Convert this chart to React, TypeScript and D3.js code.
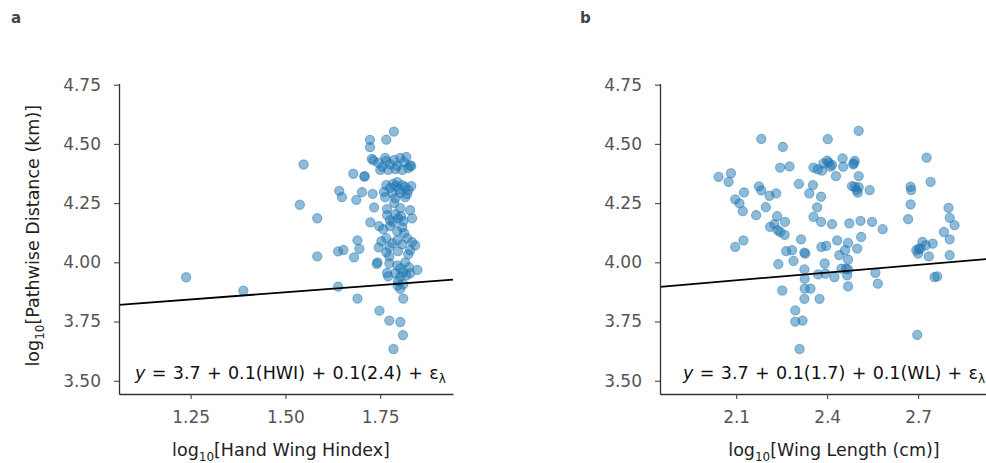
import React, { useRef, useEffect } from "react";
import * as d3 from "d3";

// panel a: log10 hand wing index vs log10 pathwise distance
const hwiA = [
  1.238, 1.389, 1.548, 1.538, 1.584, 1.584, 1.639, 1.639, 1.653, 1.642, 1.649, 1.679, 1.708, 1.709, 1.687,
  1.702, 1.730, 1.690, 1.695, 1.681, 1.690, 1.734, 1.724, 1.746, 1.741, 1.743, 1.748, 1.774, 1.803, 1.810,
  1.785, 1.811, 1.803, 1.796, 1.768, 1.848, 1.723, 1.723, 1.766, 1.786, 1.728, 1.732, 1.829, 1.832,
  1.745, 1.755, 1.766, 1.776, 1.787, 1.795, 1.803, 1.813, 1.824, 1.750, 1.771, 1.790, 1.808, 1.763, 1.819,
  1.766, 1.776, 1.784, 1.792, 1.800, 1.808, 1.816, 1.824, 1.832, 1.760, 1.782, 1.803, 1.821, 1.795,
  1.763, 1.790, 1.816, 1.768, 1.803, 1.829, 1.787, 1.768, 1.776, 1.790, 1.797, 1.805, 1.811, 1.834, 1.784,
  1.747, 1.758, 1.776, 1.795, 1.808, 1.813, 1.753, 1.766, 1.782, 1.795, 1.808, 1.821, 1.834, 1.842, 1.774,
  1.766, 1.774, 1.797, 1.824, 1.829, 1.774, 1.795, 1.803, 1.816, 1.826, 1.790, 1.803, 1.811, 1.819, 1.829,
  1.771, 1.797, 1.811,
];
const distA = [
  3.937, 3.880, 4.413, 4.243, 4.186, 4.025, 3.897, 4.046, 4.052, 4.302, 4.275, 4.374, 4.362, 4.364, 4.264,
  4.296, 4.289, 4.093, 4.057, 4.021, 3.847, 4.232, 4.169, 4.063, 3.993, 4.000, 3.796, 3.754, 3.748, 3.693,
  3.634, 3.847, 3.888, 3.902, 3.955, 3.968, 4.517, 4.486, 4.518, 4.552, 4.437, 4.430, 4.409, 4.406,
  4.420, 4.403, 4.428, 4.415, 4.432, 4.407, 4.441, 4.424, 4.398, 4.390, 4.390, 4.394, 4.390, 4.441, 4.445,
  4.326, 4.314, 4.331, 4.322, 4.309, 4.326, 4.318, 4.305, 4.322, 4.297, 4.292, 4.292, 4.288, 4.339,
  4.275, 4.271, 4.275, 4.225, 4.229, 4.220, 4.250, 4.199, 4.178, 4.203, 4.186, 4.195, 4.174, 4.186, 4.170,
  4.153, 4.140, 4.153, 4.131, 4.148, 4.123, 4.089, 4.102, 4.081, 4.093, 4.076, 4.102, 4.085, 4.072, 4.064,
  4.042, 4.025, 4.047, 4.034, 4.051, 3.996, 3.987, 3.975, 4.000, 3.979, 3.953, 3.941, 3.958, 3.945, 3.953,
  3.941, 3.920, 3.907,
];

// panel b: log10 wing length vs log10 pathwise distance
const wlB = [
  2.042, 2.075, 2.083, 2.097, 2.124, 2.097, 2.111, 2.122, 2.126, 2.166, 2.175, 2.183, 2.183, 2.198, 2.210,
  2.232, 2.212, 2.226, 2.235, 2.245, 2.260, 2.261, 2.239, 2.252, 2.245, 2.276, 2.254, 2.265, 2.284, 2.289,
  2.295, 2.295, 2.319, 2.309, 2.307, 2.314, 2.325, 2.328, 2.325, 2.326, 2.326, 2.345, 2.325, 2.341, 2.353,
  2.355, 2.369, 2.383, 2.388, 2.400, 2.405, 2.416, 2.411, 2.367, 2.355, 2.380, 2.380, 2.381, 2.397, 2.392,
  2.370, 2.394, 2.375, 2.402, 2.416, 2.429, 2.424, 2.433, 2.440, 2.451, 2.453, 2.447, 2.462, 2.469, 2.459,
  2.469, 2.469, 2.466, 2.469, 2.473, 2.482, 2.491, 2.504, 2.497, 2.488, 2.491, 2.486, 2.504, 2.501, 2.504,
  2.499, 2.512, 2.510, 2.540, 2.548, 2.559, 2.567, 2.583, 2.667, 2.675, 2.677, 2.675, 2.694, 2.700, 2.708,
  2.714, 2.725, 2.702, 2.697, 2.728, 2.741, 2.735, 2.748, 2.754, 2.763, 2.785, 2.800, 2.804, 2.804, 2.804,
  2.820, 2.237,
];
const distB = [
  4.361, 4.340, 4.376, 4.065, 4.093, 4.266, 4.249, 4.216, 4.295, 4.199, 4.321, 4.304, 4.521, 4.233, 4.281,
  4.291, 4.150, 4.161, 4.195, 4.128, 4.116, 4.171, 3.992, 3.881, 4.400, 4.405, 4.487, 4.047, 4.051, 4.006,
  3.797, 3.750, 3.754, 3.634, 4.331, 4.097, 4.041, 4.037, 3.970, 3.931, 3.889, 3.889, 3.846, 4.291, 4.326,
  4.400, 4.393, 4.387, 4.418, 4.429, 4.421, 4.411, 4.404, 4.232, 4.192, 4.171, 4.277, 4.065, 4.069, 3.995,
  3.949, 3.952, 3.846, 4.520, 4.161, 4.364, 3.938, 4.093, 4.030, 4.439, 4.404, 3.973, 3.973, 3.970, 4.051,
  4.082, 4.011, 3.945, 3.898, 4.164, 4.322, 4.319, 4.317, 4.305, 4.418, 4.428, 4.414, 4.364, 4.294, 4.555,
  4.058, 4.107, 4.175, 4.305, 4.171, 3.956, 3.910, 4.140, 4.182, 4.319, 4.305, 4.245, 4.051, 4.037, 4.058,
  4.086, 4.072, 4.058, 3.694, 4.442, 4.340, 4.025, 4.079, 3.938, 3.941, 4.128, 4.230, 4.188, 4.097, 4.030,
  4.157, 4.136,
];

const distanceTicks = [3.5, 3.75, 4.0, 4.25, 4.5, 4.75];
const hwiTicks = [1.25, 1.5, 1.75];
const wlTicks = [2.1, 2.4, 2.7];
// fitted lines: [intercept, slope]
const fitA = [3.692, 0.121];
const fitB = [3.695, 0.109];

const FONT = "'DejaVu Sans', Verdana, sans-serif";
const BLUE = "#1f77b4";

const panels = [
  {
    tag: "a", tagX: 11, left: 119, xs: hwiA, ys: distA, xDomain: [1.061, 1.942], ticks: hwiTicks,
    fmt: d3.format(".2f"), fit: fitA, xLabel: "[Hand Wing Hindex]", xLabelCx: 281, yLabel: true,
    eqX: 135, eq: ["3.7 + 0.1(HWI) + 0.1(2.4) + ε"],
  },
  {
    tag: "b", tagX: 580, left: 660, xs: wlB, ys: distB, xDomain: [1.849, 2.95], ticks: wlTicks,
    fmt: d3.format(".1f"), fit: fitB, xLabel: "[Wing Length (cm)]", xLabelCx: 834, yLabel: false,
    eqX: 683, eq: ["3.7 + 0.1(1.7) + 0.1(WL) + ε"],
  },
];

const App = () => {
  const svgRef = useRef(null);

  useEffect(() => {
    const svg = d3.select(svgRef.current);
    svg.selectAll("*").remove();

    const top = 83.5, bottom = 394, plotW = 334;
    const y = d3.scaleLinear().domain([3.444, 4.755]).range([bottom, top]);

    panels.forEach((p) => {
      const x = d3.scaleLinear().domain(p.xDomain).range([p.left, p.left + plotW]);
      const g = svg.append("g");

      // panel tag
      svg.append("text").attr("x", p.tagX).attr("y", 23).text(p.tag)
        .attr("font-family", FONT).attr("font-weight", "bold").attr("font-size", 15)
        .attr("fill", "#444");

      // points
      g.selectAll("circle.pt")
        .data(p.xs.map((v, i) => [v, p.ys[i]]))
        .enter()
        .append("circle")
        .attr("class", "pt")
        .attr("cx", (d) => x(d[0]))
        .attr("cy", (d) => y(d[1]))
        .attr("r", 4.6)
        .attr("fill", BLUE)
        .attr("fill-opacity", 0.5)
        .attr("stroke", BLUE)
        .attr("stroke-opacity", 0.5)
        .attr("stroke-width", 1.1);

      // fitted line
      const [b0, b1] = p.fit;
      g.append("line")
        .attr("x1", x(p.xDomain[0])).attr("y1", y(b0 + b1 * p.xDomain[0]))
        .attr("x2", x(p.xDomain[1])).attr("y2", y(b0 + b1 * p.xDomain[1]))
        .attr("stroke", "#000").attr("stroke-width", 1.8);

      // axes
      const yAxis = g.append("g").attr("transform", `translate(${p.left},0)`)
        .call(d3.axisLeft(y).tickValues(distanceTicks).tickFormat(d3.format(".2f")).tickSize(5).tickPadding(13).tickSizeOuter(0));
      const xAxis = g.append("g").attr("transform", `translate(0,${bottom})`)
        .call(d3.axisBottom(x).tickValues(p.ticks).tickFormat(p.fmt).tickSize(5).tickPadding(12).tickSizeOuter(0));
      [yAxis, xAxis].forEach((ax) => {
        ax.select(".domain").attr("stroke", "#333").attr("stroke-width", 1.3);
        ax.selectAll(".tick line").attr("stroke", "#444").attr("stroke-width", 1.1);
        ax.selectAll("text").attr("font-family", FONT).attr("font-size", 17).attr("fill", "#555");
      });

      // equation
      const eq = g.append("text").attr("x", p.eqX).attr("y", 379)
        .attr("font-family", FONT).attr("font-size", 17.5).attr("word-spacing", 0.8)
        .attr("fill", "#111");
      eq.append("tspan").attr("font-style", "italic").text("y");
      eq.append("tspan").text(" = " + p.eq[0]);
      eq.append("tspan").attr("font-size", 12).attr("dy", 4).text("λ");

      // x label
      const xl = g.append("text").attr("x", p.xLabelCx).attr("y", 456).attr("text-anchor", "middle")
        .attr("font-family", FONT).attr("font-size", 17.5).attr("fill", "#222");
      xl.append("tspan").text("log");
      xl.append("tspan").attr("font-size", 12).attr("dy", 5).text("10");
      xl.append("tspan").attr("dy", -5).text(p.xLabel);

      if (p.yLabel) {
        const yl = g.append("text").attr("transform", `translate(39,${(top + bottom) / 2 - 3}) rotate(-90)`)
          .attr("text-anchor", "middle").attr("font-family", FONT).attr("font-size", 17.5).attr("fill", "#222");
        yl.append("tspan").text("log");
        yl.append("tspan").attr("font-size", 12).attr("dy", 5).text("10");
        yl.append("tspan").attr("dy", -5).text("[Pathwise Distance (km)]");
      }
    });
  }, []);

  return (
    <svg
      ref={svgRef}
      width={986}
      height={463}
      style={{ position: "absolute", left: 0, top: 0, background: "#fff" }}
    />
  );
};

export default App;
